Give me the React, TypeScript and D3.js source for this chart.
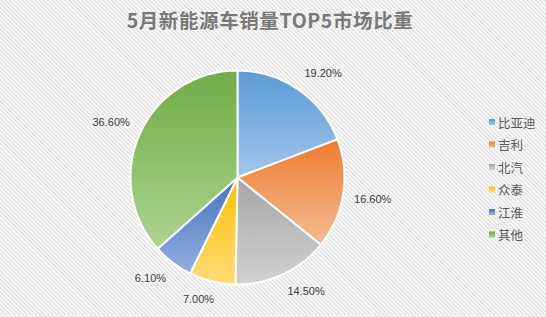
import React from 'react';
import * as d3 from 'd3';

// market share of NEV sales, May
const categories = ['比亚迪', '吉利', '北汽', '众泰', '江淮', '其他'];
const shares = [19.2, 16.6, 14.5, 7.0, 6.1, 36.6];
// gradient stops per slice: top (darker) -> bottom (lighter)
const topColors = ['#5b9bd5', '#ed7d31', '#a5a5a5', '#ffc000', '#4472c4', '#70ad47'];
const bottomColors = ['#a2c6ea', '#f5bb92', '#d2d2d2', '#ffdc78', '#95b0e1', '#abd390'];

const W = 546;
const H = 317;
const cx = 237.5;
const cy = 177.5;
const R = 107;

// rough width of a label in 11px Liberation Sans
const textWidth = (s: string) =>
  s.split('').reduce((acc, ch) => acc + (ch === '.' ? 3.1 : ch === '%' ? 9.8 : 6.1), 0);

const clamp = (v: number) => Math.max(-1, Math.min(1, v));

export default function App() {
  const pie = d3.pie<number>().sort(null).value((d) => d);
  const arcs = pie(shares);
  const arc = d3.arc<d3.PieArcDatum<number>>().innerRadius(0).outerRadius(R);

  return (
    <svg
      width={W}
      height={H}
      style={{ position: 'absolute', left: 0, top: 0 }}
      xmlns="http://www.w3.org/2000/svg"
    >
      <defs>
        <pattern
          id="bgStripes"
          width="3"
          height="3"
          patternUnits="userSpaceOnUse"
          patternTransform="rotate(-45)"
        >
          <rect width="3" height="3" fill="#ffffff" />
          <line x1="0.7" y1="0" x2="0.7" y2="3" stroke="#dcdcdc" strokeWidth="1.3" />
        </pattern>
        {topColors.map((c, i) => (
          <linearGradient key={i} id={`grad${i}`} x1="0" y1="0" x2="0" y2="1">
            <stop offset="0" stopColor={c} />
            <stop offset="1" stopColor={bottomColors[i]} />
          </linearGradient>
        ))}
      </defs>

      <rect width={W} height={H} fill="url(#bgStripes)" />

      <text
        x={W / 2 - 3}
        y={28}
        textAnchor="middle"
        fontFamily="'Noto Sans CJK SC', 'Liberation Sans', sans-serif"
        fontWeight="bold"
        fontSize={19.5}
        fill="#7a7a7a"
        letterSpacing="0.6"
      >
        5月新能源车销量TOP5市场比重
      </text>

      <g transform={`translate(${cx},${cy})`}>
        {arcs.map((a, i) => (
          <path
            key={i}
            d={arc(a) || ''}
            fill={`url(#grad${i})`}
            stroke="#ffffff"
            strokeWidth={2}
            strokeLinejoin="round"
          />
        ))}
        {arcs.map((a, i) => {
          const mid = (a.startAngle + a.endAngle) / 2;
          const label = shares[i].toFixed(2) + '%';
          const w = textWidth(label);
          const h = 14;
          const rr = R + 11;
          const px = rr * Math.sin(mid) + (w / 2) * clamp(Math.sin(mid) * 3);
          const py = -rr * Math.cos(mid) - (h / 2) * clamp(Math.cos(mid) * 3);
          return (
            <text
              key={`l${i}`}
              x={px}
              y={py}
              textAnchor="middle"
              dominantBaseline="central"
              fontFamily="'Liberation Sans', Arial, sans-serif"
              fontSize={11}
              fill="#404040"
            >
              {label}
            </text>
          );
        })}
      </g>

      <g transform="translate(489,122)">
        {categories.map((c, i) => (
          <g key={c} transform={`translate(0,${i * 22.5})`}>
            <rect x={0} y={-3} width={6} height={6} fill={`url(#grad${i})`} />
            <text
              x={9}
              y={0}
              dominantBaseline="central"
              fontFamily="'Noto Sans CJK SC', sans-serif"
              fontSize={12.5}
              fill="#595959"
            >
              {c}
            </text>
          </g>
        ))}
      </g>
    </svg>
  );
}
